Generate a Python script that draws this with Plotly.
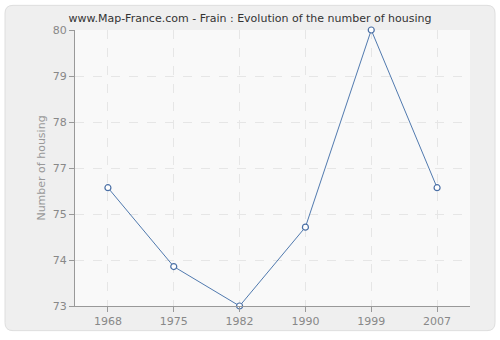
import plotly.graph_objects as go

years = ["1968", "1975", "1982", "1990", "1999", "2007"]
housing = [76, 74, 73, 75, 80, 76]
ytick_vals = [73 + k * 7 / 6 for k in range(7)]
ytick_text = ["73", "74", "75", "77", "78", "79", "80"]

L, R, T, B = 75, 470, 30, 310
W, H = 500, 340

def px(x):
    return (x - L) / (R - L)

def py(y):
    return (B - y) / (B - T)

fig = go.Figure()
fig.add_trace(go.Scatter(
    x=years, y=housing, mode="lines+markers",
    line=dict(color="#5079ae", width=1),
    marker=dict(symbol="circle", size=6, color="white",
                line=dict(color="#4a6fa5", width=1.2)),
    hoverinfo="skip", showlegend=False, cliponaxis=False,
))

# outer rounded box
x0, y0, x1, y1, r = 5, 5, 495, 335, 8
path = (f"M {px(x0+r)},{py(y0)} L {px(x1-r)},{py(y0)} "
        f"Q {px(x1)},{py(y0)} {px(x1)},{py(y0+r)} "
        f"L {px(x1)},{py(y1-r)} Q {px(x1)},{py(y1)} {px(x1-r)},{py(y1)} "
        f"L {px(x0+r)},{py(y1)} Q {px(x0)},{py(y1)} {px(x0)},{py(y1-r)} "
        f"L {px(x0)},{py(y0+r)} Q {px(x0)},{py(y0)} {px(x0+r)},{py(y0)} Z")
shapes = [dict(type="path", xref="paper", yref="paper", path=path,
               fillcolor="#efefef", line=dict(color="#dedede", width=1), layer="below"),
          dict(type="rect", xref="paper", yref="paper", x0=0, y0=0, x1=1, y1=1,
               fillcolor="#f9f9f9", line=dict(width=0), layer="below")]

fig.update_layout(
    width=W, height=H,
    margin=dict(l=L, r=W - R, t=T, b=H - B),
    paper_bgcolor="white", plot_bgcolor="rgba(0,0,0,0)",
    shapes=shapes,
    title=dict(text="www.Map-France.com - Frain : Evolution of the number of housing",
               x=0.5, xref="container", xanchor="center", y=1 - 18 / H, yanchor="middle",
               font=dict(family="DejaVu Sans", size=11, color="#333333")),
    font=dict(family="DejaVu Sans", size=11, color="#888888"),
    xaxis=dict(type="category", range=[-0.5, 5.5], showgrid=True,
               gridcolor="#e6e6e6", griddash="dash", gridwidth=1,
               showline=True, linecolor="#999999", linewidth=1,
               ticks="outside", ticklen=5, tickcolor="#999999",
               tickfont=dict(size=11, color="#888888"), zeroline=False, fixedrange=True),
    yaxis=dict(range=[73, 80], tickvals=ytick_vals, ticktext=ytick_text,
               showgrid=True, gridcolor="#e6e6e6", griddash="dash", gridwidth=1,
               showline=True, linecolor="#999999", linewidth=1,
               ticks="outside", ticklen=5, tickcolor="#999999",
               tickfont=dict(size=11, color="#888888"), zeroline=False,
               title=dict(text="Number of housing", font=dict(size=11, color="#999999"), standoff=4),
               fixedrange=True),
)

fig.write_html("out.html")
